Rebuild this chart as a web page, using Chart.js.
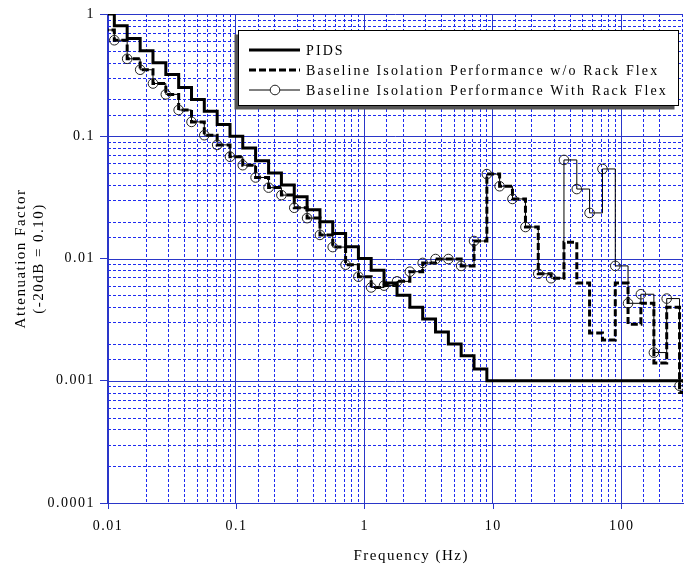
<!DOCTYPE html>
<html><head><meta charset="utf-8">
<script src="https://cdn.jsdelivr.net/npm/chart.js@4.4.0/dist/chart.umd.min.js"></script>
<style>html,body{margin:0;padding:0;background:#fff}</style>
</head><body>
<canvas id="c" width="685" height="569"></canvas>
<script>
// 1/3-octave band lower edges (Hz); last entry is the right end of the plot
const bandEdgesHz = [0.00891, 0.0112, 0.0141, 0.0178, 0.0224, 0.0282, 0.0355, 0.0447, 0.0562, 0.0708,
  0.0891, 0.112, 0.141, 0.178, 0.224, 0.282, 0.355, 0.447, 0.562, 0.708,
  0.891, 1.12, 1.41, 1.78, 2.24, 2.82, 3.55, 4.47, 5.62, 7.08,
  8.91, 11.2, 14.1, 17.8, 22.4, 28.2, 35.5, 44.7, 56.2, 70.8,
  89.1, 112, 141, 178, 224, 282, 300];

const pids = [1, 0.8, 0.63, 0.5, 0.4, 0.32, 0.25, 0.2, 0.16, 0.125,
  0.1, 0.08, 0.063, 0.05, 0.04, 0.032, 0.025, 0.02, 0.016, 0.0125,
  0.01, 0.008, 0.0063, 0.005, 0.004, 0.0032, 0.0025, 0.002, 0.0016, 0.00125,
  0.001, 0.001, 0.001, 0.001, 0.001, 0.001, 0.001, 0.001, 0.001, 0.001,
  0.001, 0.001, 0.001, 0.001, 0.001, 0.001];

const withoutRackFlex = [0.74, 0.61, 0.43, 0.35, 0.27, 0.22, 0.164, 0.131, 0.102, 0.085,
  0.068, 0.058, 0.046, 0.038, 0.033, 0.026, 0.0214, 0.0156, 0.0124, 0.0089,
  0.0071, 0.0058, 0.0060, 0.0065, 0.0078, 0.0092, 0.0099, 0.0099, 0.0087, 0.0139,
  0.049, 0.039, 0.0307, 0.0181, 0.0075, 0.0069, 0.0136, 0.0063, 0.00246, 0.00215,
  0.0063, 0.0029, 0.0043, 0.0014, 0.0040, 0.00080];

const withRackFlex = [0.74, 0.61, 0.43, 0.35, 0.27, 0.22, 0.164, 0.131, 0.102, 0.085,
  0.068, 0.058, 0.046, 0.038, 0.033, 0.026, 0.0214, 0.0156, 0.0124, 0.0089,
  0.0071, 0.0058, 0.0060, 0.0065, 0.0078, 0.0092, 0.0099, 0.0099, 0.0087, 0.0139,
  0.049, 0.039, 0.0307, 0.0181, 0.0075, 0.0069, 0.064, 0.037, 0.0236, 0.054,
  0.0087, 0.0043, 0.0051, 0.0017, 0.0047, 0.00091];

const xTickLabels = ['0.01', '0.1', '1', '10', '100'];       // 10^-2 .. 10^2
const yTickLabels = ['0.0001', '0.001', '0.01', '0.1', '1']; // 10^-4 .. 10^0
const seriesNames = ['PIDS', 'Baseline Isolation Performance w/o Rack Flex', 'Baseline Isolation Performance With Rack Flex'];
const xTitle = '      Frequency (Hz)';
const yTitle = ['Attenuation Factor', '(-20dB = 0.10)'];

const MAJOR = '#2a36c8';
const MINOR = '#1f2cf0';
const FONT = "'Liberation Serif', 'Times New Roman', serif";
const SPACING = '1.5px';
const LEGEND_SPACING = '2.1px';

function isPow10(v) { const l = Math.log10(v); return Math.abs(l - Math.round(l)) < 1e-6; }
function toPoints(vals) {
  const pts = vals.map((v, i) => ({ x: bandEdgesHz[i], y: v }));
  pts.push({ x: bandEdgesHz[bandEdgesHz.length - 1], y: vals[vals.length - 1] });
  return pts;
}

const spacingPlugin = {
  id: 'spacing',
  beforeLayout(chart) { chart.ctx.letterSpacing = SPACING; },
  beforeDraw(chart) { chart.ctx.letterSpacing = SPACING; }
};

const gridPlugin = {
  id: 'grid2',
  beforeDatasetsDraw(chart) {
    const { ctx, chartArea: a, scales: { x, y } } = chart;
    ctx.save();
    ctx.lineWidth = 1;
    const drawSet = (major) => {
      ctx.strokeStyle = major ? MAJOR : MINOR;
      ctx.setLineDash(major ? [] : [3, 2]);
      ctx.beginPath();
      x.ticks.forEach(t => {
        if (isPow10(t.value) !== major) return;
        const px = Math.round(x.getPixelForValue(t.value)) - 0.5;
        ctx.moveTo(px, a.top); ctx.lineTo(px, a.bottom);
      });
      y.ticks.forEach(t => {
        if (isPow10(t.value) !== major) return;
        const py = Math.round(y.getPixelForValue(t.value)) + 0.5;
        ctx.moveTo(a.left, py); ctx.lineTo(a.right, py);
      });
      ctx.stroke();
    };
    drawSet(false);
    drawSet(true);
    ctx.restore();
  }
};

const legendPlugin = {
  id: 'boxLegend',
  afterDraw(chart) {
    const ctx = chart.ctx;
    const bx = 238.5, by = 30.5, bw = 440, bh = 75;
    ctx.save();
    ctx.setLineDash([]);
    ctx.fillStyle = '#555';
    ctx.fillRect(bx - 4, by + 4, bw, bh);
    ctx.fillStyle = '#fff';
    ctx.fillRect(bx, by, bw, bh);
    ctx.strokeStyle = '#000';
    ctx.lineWidth = 1;
    ctx.strokeRect(bx, by, bw, bh);
    const rows = [50, 70, 90];
    const ds = chart.data.datasets;
    const order = [0, 2, 1];
    rows.forEach((ry, i) => {
      const d = ds[order[i]];
      ctx.beginPath();
      ctx.strokeStyle = '#000';
      ctx.lineWidth = d.borderWidth;
      ctx.setLineDash(d.borderDash || []);
      ctx.moveTo(249, ry); ctx.lineTo(300, ry);
      ctx.stroke();
      if (d.pointRadius) {
        ctx.setLineDash([]);
        ctx.lineWidth = 1;
        ctx.fillStyle = '#fff';
        ctx.beginPath();
        ctx.arc(275, ry, 4.8, 0, Math.PI * 2);
        ctx.fill();
        ctx.strokeStyle = '#222';
        ctx.stroke();
      }
      ctx.fillStyle = '#000';
      ctx.font = '14px ' + FONT;
      ctx.letterSpacing = LEGEND_SPACING;
      ctx.textBaseline = 'middle';
      ctx.textAlign = 'left';
      ctx.fillText(d.label, 306, ry + 1);
    });
    ctx.restore();
  }
};

Chart.defaults.font.family = FONT;
Chart.defaults.font.size = 14;
Chart.defaults.color = '#000';

new Chart(document.getElementById('c'), {
  type: 'line',
  data: {
    datasets: [
      { label: seriesNames[0], data: toPoints(pids), stepped: true, borderColor: '#000', borderWidth: 3, pointRadius: 0, fill: false },
      { label: seriesNames[2], data: toPoints(withRackFlex), stepped: true, borderColor: '#000', borderWidth: 1,
        pointRadius: (c) => (c.dataIndex === 0 || c.dataIndex === bandEdgesHz.length - 1) ? 0 : 4.8,
        pointBackgroundColor: 'rgba(255,255,255,0)', pointBorderColor: '#222', pointBorderWidth: 1, fill: false },
      { label: seriesNames[1], data: toPoints(withoutRackFlex), stepped: true, borderColor: '#000', borderWidth: 3, borderDash: [7, 3], pointRadius: 0, fill: false }
    ]
  },
  options: {
    responsive: false,
    animation: false,
    devicePixelRatio: 1,
    layout: { padding: { left: 0, top: 14, right: 2, bottom: 0 } },
    plugins: { legend: { display: false }, tooltip: { enabled: false } },
    scales: {
      x: {
        type: 'logarithmic', min: 0.01, max: 300,
        afterFit(s) { s.height = 66; s.paddingRight = 0; s.paddingLeft = 0; },
        grid: { drawOnChartArea: false, tickLength: 6,
          tickColor: (c) => (c.tick && isPow10(c.tick.value)) ? MAJOR : 'rgba(0,0,0,0)' },
        border: { display: true, color: MAJOR, width: 1 },
        ticks: { autoSkip: false, maxRotation: 0, padding: 9,
          callback: (v) => isPow10(v) ? xTickLabels[Math.round(Math.log10(v)) + 2] : '' },
        title: { display: true, text: xTitle, padding: { top: 0, bottom: 4 }, font: { size: 15 } }
      },
      y: {
        type: 'logarithmic', min: 0.0001, max: 1,
        afterFit(s) { s.width = 108; },
        grid: { drawOnChartArea: false, tickLength: 8,
          tickColor: (c) => (c.tick && isPow10(c.tick.value)) ? MAJOR : 'rgba(0,0,0,0)' },
        border: { display: true, color: MAJOR, width: 1 },
        ticks: { autoSkip: false, padding: 5,
          callback: (v) => isPow10(v) ? yTickLabels[Math.round(Math.log10(v)) + 4] : '' },
        title: { display: true, text: yTitle, padding: { top: 12.5, bottom: 0 }, font: { size: 15 } }
      }
    }
  },
  plugins: [spacingPlugin, gridPlugin, legendPlugin]
});
</script>
</body></html>
